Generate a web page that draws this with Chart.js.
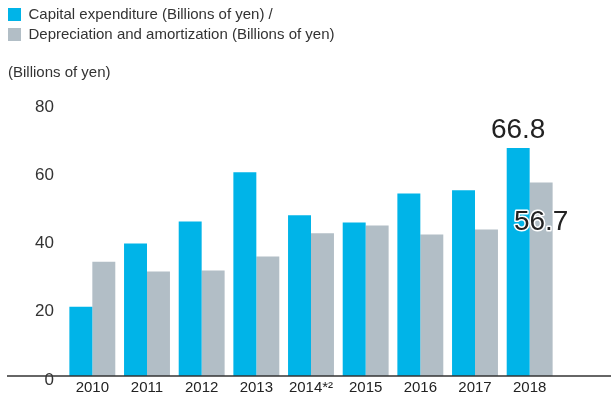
<!DOCTYPE html>
<html>
<head>
<meta charset="utf-8">
<script src="https://cdn.jsdelivr.net/npm/chart.js@4"></script>
<style>
  html, body { margin: 0; padding: 0; background: #fff; }
  #wrap { width: 611px; height: 400px; }
</style>
</head>
<body>
<div id="wrap"><canvas id="capex" width="611" height="400"></canvas></div>
<script>
// data
const years = ["2010", "2011", "2012", "2013", "2014*²", "2015", "2016", "2017", "2018"];
const capex = [20.3, 38.8, 45.3, 59.7, 47.1, 45.0, 53.5, 54.4, 66.8];
const depreciation = [33.5, 30.6, 30.9, 35.0, 41.8, 44.1, 41.5, 42.9, 56.7];
const yTicks = [0, 20, 40, 60, 80];

const FONT = "'Liberation Sans', Arial, sans-serif";

// extra room under the legend for the unit text
const legendGap = {
  id: "legendGap",
  beforeInit(chart) {
    const fit = chart.legend.fit;
    chart.legend.fit = function () {
      fit.bind(chart.legend)();
      this.height += 51;
    };
  }
};

// baseline, unit text and the two value labels
const extras = {
  id: "extras",
  afterDraw(chart) {
    const ctx = chart.ctx;
    const y = chart.scales.y.getPixelForValue(0);
    ctx.save();
    ctx.strokeStyle = "#333";
    ctx.lineWidth = 1.5;
    ctx.beginPath();
    ctx.moveTo(7, y);
    ctx.lineTo(611, y);
    ctx.stroke();

    ctx.fillStyle = "#333";
    ctx.font = "15px " + FONT;
    ctx.textAlign = "left";
    ctx.textBaseline = "middle";
    ctx.fillText("(Billions of yen)", 8, 73);

    const last = years.length - 1;
    const b1 = chart.getDatasetMeta(0).data[last];
    const b2 = chart.getDatasetMeta(1).data[last];
    ctx.font = "28px " + FONT;
    ctx.textAlign = "center";
    ctx.fillStyle = "#222";
    ctx.fillText(capex[last].toFixed(1), b1.x, b1.y - 18);

    ctx.lineWidth = 3;
    ctx.strokeStyle = "#fff";
    ctx.lineJoin = "round";
    ctx.strokeText(depreciation[last].toFixed(1), b2.x, b2.y + 40);
    ctx.fillText(depreciation[last].toFixed(1), b2.x, b2.y + 40);
    ctx.restore();
  }
};

new Chart(document.getElementById("capex"), {
  type: "bar",
  data: {
    labels: years,
    datasets: [{
      label: "Capital expenditure (Billions of yen) /",
      data: capex,
      backgroundColor: "rgb(0,180,232)",
      borderWidth: 0,
      barPercentage: 1.0,
      categoryPercentage: 0.84
    }, {
      label: "Depreciation and amortization (Billions of yen)",
      data: depreciation,
      backgroundColor: "rgb(178,190,198)",
      borderWidth: 0,
      barPercentage: 1.0,
      categoryPercentage: 0.84
    }]
  },
  options: {
    responsive: false,
    animation: false,
    layout: { padding: { top: 2, right: 54, bottom: 0, left: 3 } },
    plugins: {
      legend: {
        align: "start",
        labels: {
          boxWidth: 13,
          boxHeight: 13,
          padding: 5,
          color: "#333",
          font: { family: FONT, size: 15 }
        }
      },
      tooltip: { enabled: false }
    },
    scales: {
      x: {
        grid: { display: false, drawTicks: false },
        border: { display: false },
        ticks: {
          color: "#222",
          padding: 3,
          autoSkip: false,
          maxRotation: 0,
          minRotation: 0,
          font: { family: FONT, size: 15 }
        }
      },
      y: {
        min: 0,
        max: 80,
        afterFit(scale) { scale.width = 62; },
        afterBuildTicks(scale) { scale.ticks = yTicks.map(v => ({ value: v })); },
        grid: { display: false, drawTicks: false },
        border: { display: false },
        ticks: {
          color: "#333",
          padding: 11,
          labelOffset: 4,
          font: { family: FONT, size: 17 }
        }
      }
    }
  },
  plugins: [legendGap, extras]
});
</script>
</body>
</html>
